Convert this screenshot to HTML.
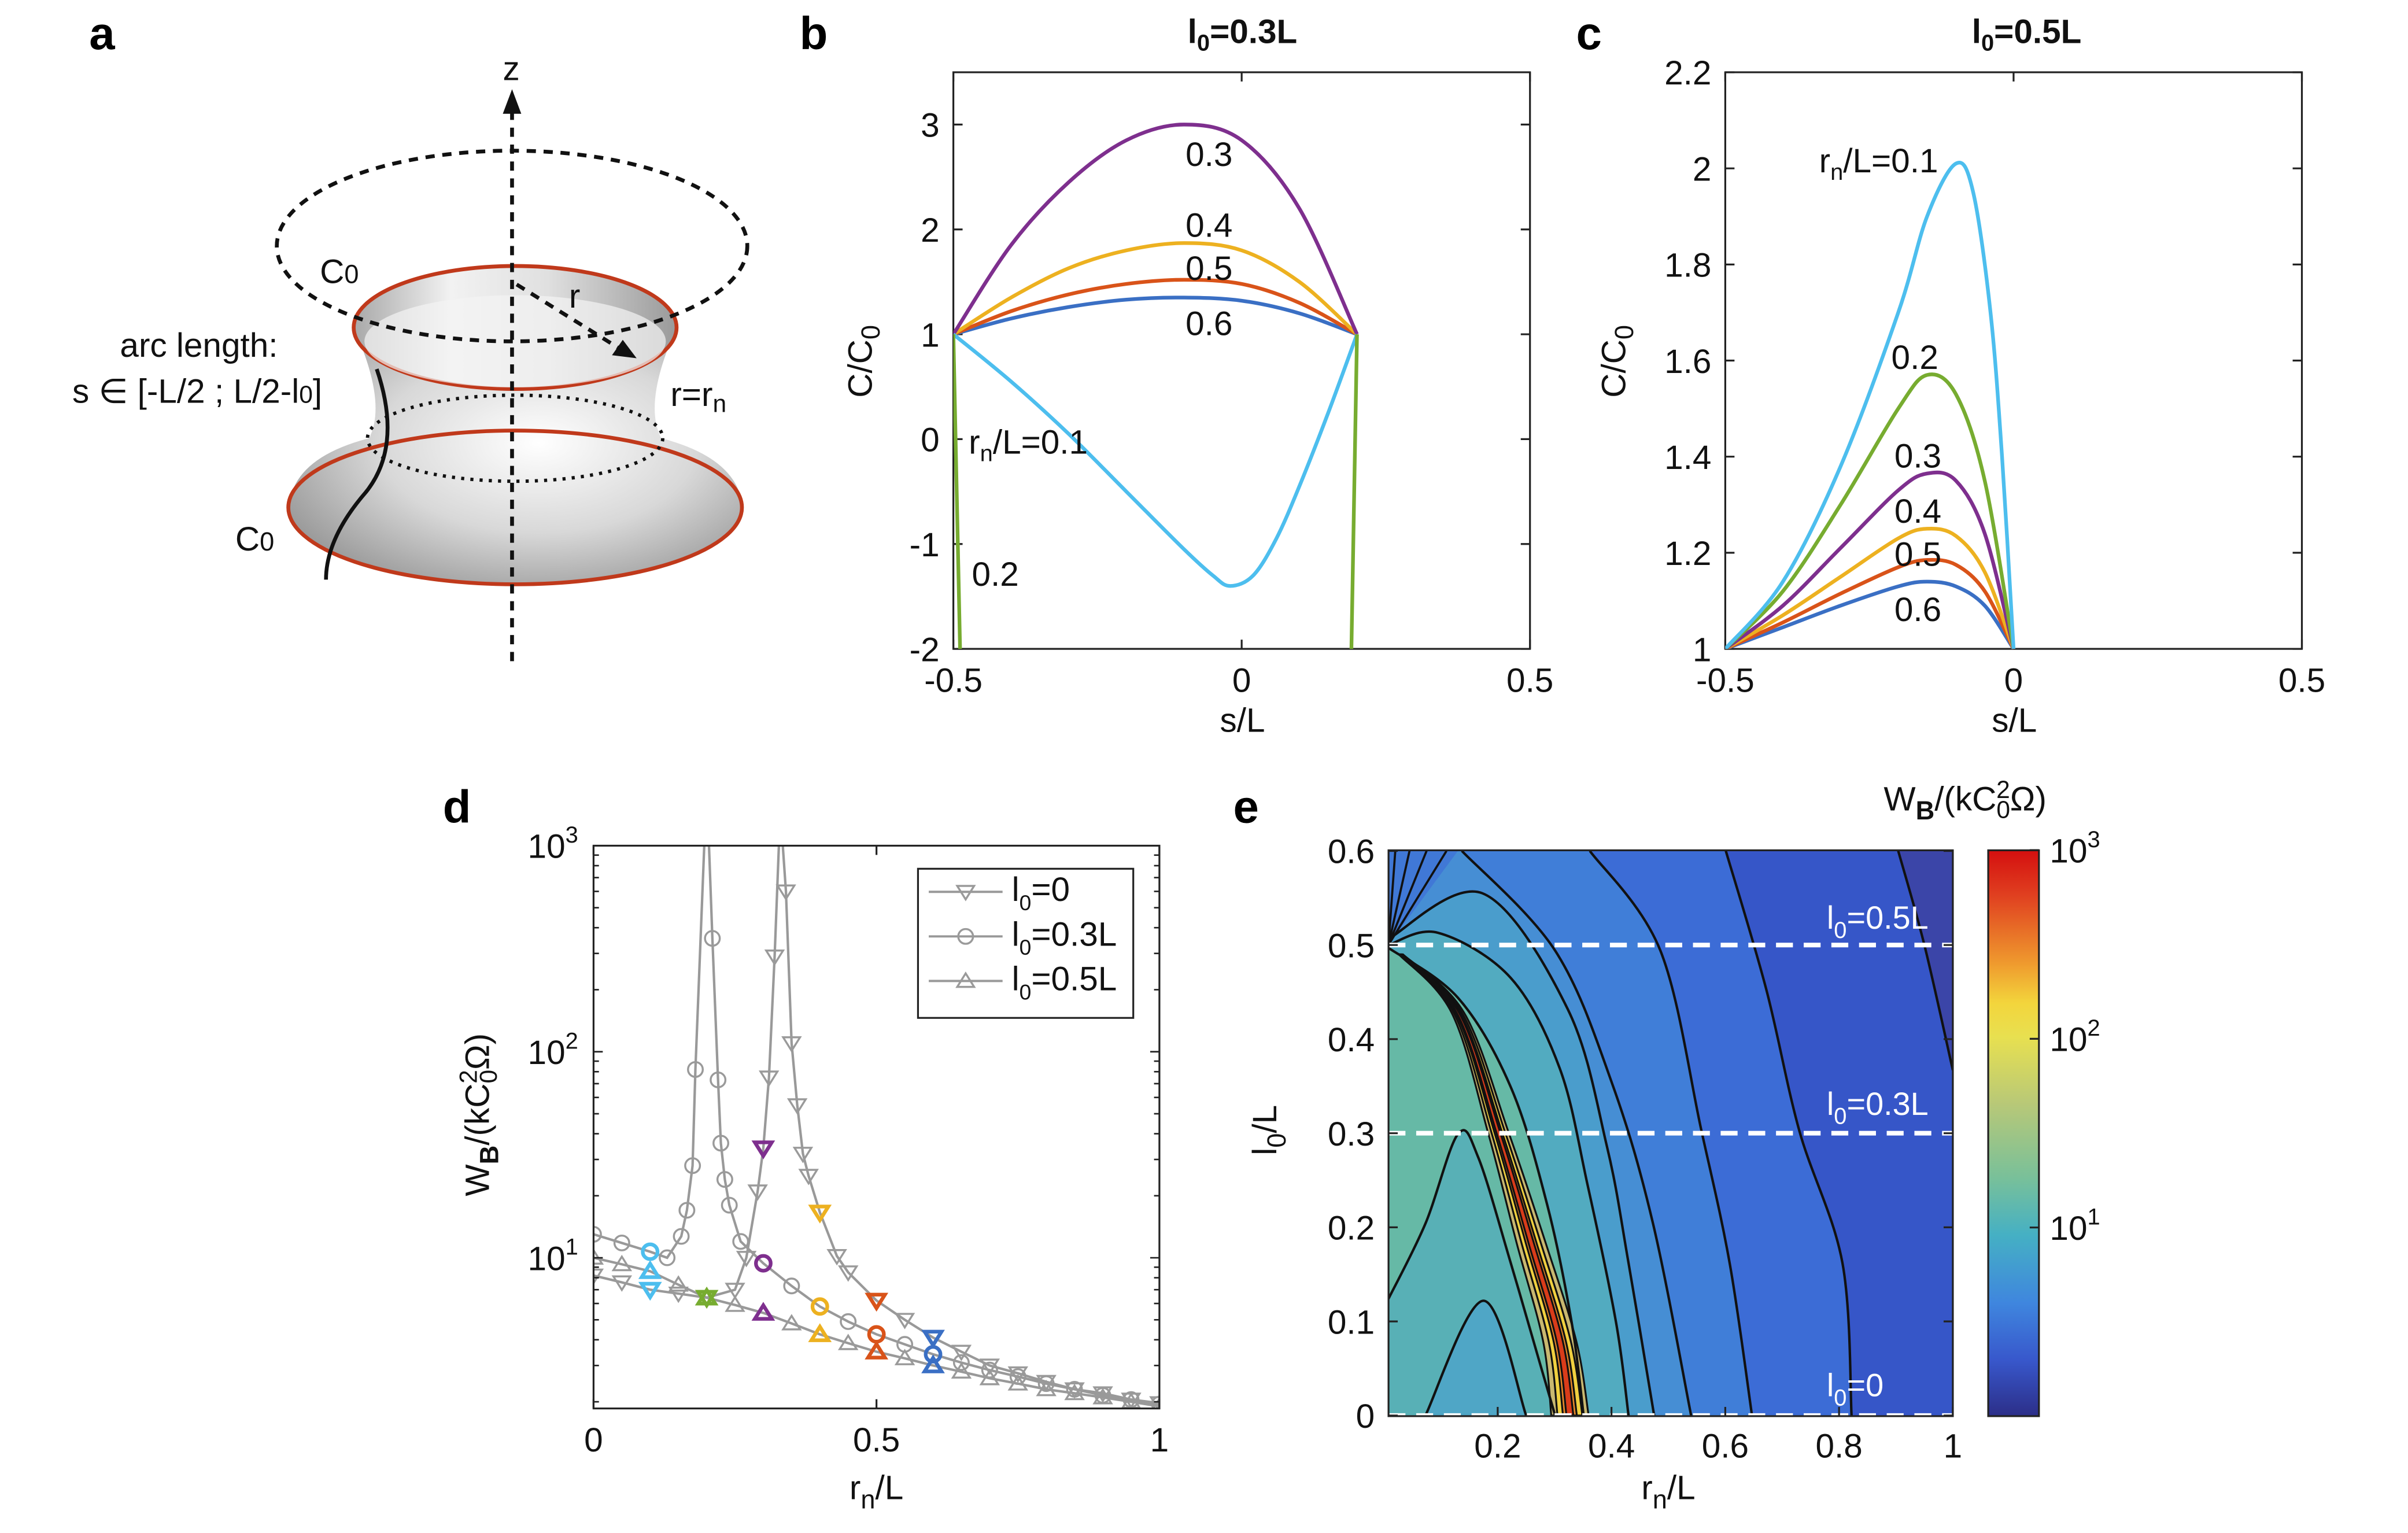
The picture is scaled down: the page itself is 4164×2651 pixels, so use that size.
<!DOCTYPE html>
<html><head><meta charset="utf-8"><style>
html,body{margin:0;padding:0;background:#fff;}
svg{display:block;font-family:"Liberation Sans",Arial,sans-serif;}
.t{font-size:22px;fill:#111;}
.lt{font-size:30px;font-weight:bold;fill:#000;}
.ti{font-size:22px;font-weight:bold;fill:#111;}
</style></head><body>
<svg id="fig" width="4164" height="2651" viewBox="0 0 1566 997" xmlns="http://www.w3.org/2000/svg">
<defs>
<clipPath id="cb"><rect x="620" y="47" width="375" height="375"/></clipPath>
<clipPath id="cc"><rect x="1122" y="47" width="375" height="375"/></clipPath>
<clipPath id="cd"><rect x="386" y="550" width="368" height="366"/></clipPath>
<clipPath id="ce"><rect x="903" y="553" width="367" height="368"/></clipPath>
<linearGradient id="cbar" x1="0" y1="0" x2="0" y2="1">
<stop offset="0" stop-color="#d40f0f"/><stop offset="0.08" stop-color="#e04020"/><stop offset="0.2" stop-color="#ef9a2e"/><stop offset="0.27" stop-color="#f3d53c"/><stop offset="0.33" stop-color="#e8e050"/><stop offset="0.45" stop-color="#b7c878"/><stop offset="0.58" stop-color="#78c09a"/><stop offset="0.68" stop-color="#45b0c4"/><stop offset="0.8" stop-color="#3f86de"/><stop offset="0.9" stop-color="#3858cc"/><stop offset="1" stop-color="#2c2e88"/>
</linearGradient>
<radialGradient id="surf" cx="0.55" cy="0.45" r="0.7">
<stop offset="0" stop-color="#ffffff"/><stop offset="0.5" stop-color="#d8d8d8"/><stop offset="1" stop-color="#8a8a8a"/>
</radialGradient>
<linearGradient id="neck" x1="0" y1="0" x2="1" y2="0">
<stop offset="0" stop-color="#a8a8a8"/><stop offset="0.3" stop-color="#f2f2f2"/><stop offset="0.6" stop-color="#e0e0e0"/><stop offset="1" stop-color="#9a9a9a"/>
</linearGradient>
</defs>

<text class="lt" x="58" y="32">a</text>
<text class="lt" x="520" y="32">b</text>
<text class="lt" x="1025" y="32">c</text>
<text class="lt" x="288" y="535">d</text>
<text class="lt" x="802" y="535">e</text>

<g>
<path d="M188,330 Q190,298 240,285 Q252,262 230,213 L440,213 Q418,262 430,285 Q480,298 483,330 A147.5,50 0 0 1 188,330 Z" fill="url(#surf)"/>
<ellipse cx="335" cy="330" rx="147.5" ry="50" fill="none" stroke="#c0391b" stroke-width="2.5"/>
<ellipse cx="335" cy="213" rx="105" ry="40" fill="url(#neck)" stroke="#c0391b" stroke-width="2.5"/>
<ellipse cx="335" cy="222" rx="98" ry="30" fill="#f4f4f4" opacity="0.7"/>
<ellipse cx="335" cy="285" rx="96" ry="28" fill="none" stroke="#111" stroke-width="2.2" stroke-dasharray="2,4"/>
<ellipse cx="333" cy="160" rx="153" ry="62" fill="none" stroke="#111" stroke-width="2.5" stroke-dasharray="6,5"/>
<line x1="333" y1="72" x2="333" y2="432" stroke="#111" stroke-width="2.5" stroke-dasharray="6,5"/>
<polygon points="333,58 327,74 339,74" fill="#111"/>
<line x1="336" y1="185" x2="405" y2="228" stroke="#111" stroke-width="2.5" stroke-dasharray="6,5"/>
<polygon points="414,233 398,231 405,221" fill="#111"/>
<path d="M245,240 Q262,290 238,320 Q212,350 212,377" fill="none" stroke="#111" stroke-width="2.5"/>
<text class="t" x="327" y="52">z</text>
<text class="t" x="370" y="200">r</text>
<text class="t" x="208" y="184">C<tspan font-size="17">0</tspan></text>
<text class="t" x="78" y="232">arc length:</text>
<text class="t" x="47" y="262">s ∈ [-L/2 ; L/2-l<tspan font-size="16">0</tspan>]</text>
<text class="t" x="436" y="264">r=r<tspan font-size="16" dy="4">n</tspan></text>
<text class="t" x="153" y="358">C<tspan font-size="17">0</tspan></text>
</g>

<g>
<rect x="620" y="47" width="375" height="375" fill="none" stroke="#222" stroke-width="1.2"/>
<text class="ti" x="808" y="28" text-anchor="middle">l<tspan font-size="15" dy="5">0</tspan><tspan dy="-5">=0.3L</tspan></text>
<text class="t" x="808" y="476" text-anchor="middle" font-size="24">s/L</text>
<text class="t" transform="translate(567,235) rotate(-90)" text-anchor="middle" font-size="24">C/C<tspan font-size="17" dy="5">0</tspan></text>
<g id="bticks"></g>
<g id="bseries" clip-path="url(#cb)"></g>
<text class="t" x="630" y="295">r<tspan font-size="15" dy="5">n</tspan><tspan dy="-5">/L=0.1</tspan></text>
<text class="t" x="632" y="381">0.2</text>
<text class="t" x="771" y="108">0.3</text>
<text class="t" x="771" y="154">0.4</text>
<text class="t" x="771" y="182">0.5</text>
<text class="t" x="771" y="218">0.6</text>
</g>

<g>
<rect x="1122" y="47" width="375" height="375" fill="none" stroke="#222" stroke-width="1.2"/>
<text class="ti" x="1318" y="28" text-anchor="middle">l<tspan font-size="15" dy="5">0</tspan><tspan dy="-5">=0.5L</tspan></text>
<text class="t" x="1310" y="476" text-anchor="middle" font-size="24">s/L</text>
<text class="t" transform="translate(1057,235) rotate(-90)" text-anchor="middle" font-size="24">C/C<tspan font-size="17" dy="5">0</tspan></text>
<g id="cticks"></g>
<g id="cseries" clip-path="url(#cc)"></g>
<text class="t" x="1183" y="112">r<tspan font-size="15" dy="5">n</tspan><tspan dy="-5">/L=0.1</tspan></text>
<text class="t" x="1230" y="240">0.2</text>
<text class="t" x="1232" y="304">0.3</text>
<text class="t" x="1232" y="340">0.4</text>
<text class="t" x="1232" y="368">0.5</text>
<text class="t" x="1232" y="404">0.6</text>
</g>

<g>
<g id="dseries" clip-path="url(#cd)"></g>
<rect x="386" y="550" width="368" height="366" fill="none" stroke="#222" stroke-width="1.2"/>
<g id="dticks"></g>
<text class="t" x="570" y="975" text-anchor="middle" font-size="24">r<tspan font-size="17" dy="6">n</tspan><tspan dy="-6">/L</tspan></text>
<text class="t" transform="translate(318,725) rotate(-90)" text-anchor="middle" font-size="24">W<tspan font-size="17" dy="6" font-weight="bold">B</tspan><tspan dy="-6">/(kC</tspan><tspan font-size="16" dy="5">0</tspan><tspan font-size="16" dy="-13" dx="-9">2</tspan><tspan dy="8">Ω)</tspan></text>
<g>
<rect x="597" y="565" width="140" height="97" fill="#fff" stroke="#222" stroke-width="1.2"/>
<g id="legend"></g>
<text class="t" x="658" y="586" font-size="20">l<tspan font-size="14" dy="6">0</tspan><tspan dy="-6">=0</tspan></text>
<text class="t" x="658" y="615" font-size="20">l<tspan font-size="14" dy="6">0</tspan><tspan dy="-6">=0.3L</tspan></text>
<text class="t" x="658" y="644" font-size="20">l<tspan font-size="14" dy="6">0</tspan><tspan dy="-6">=0.5L</tspan></text>
</g>
</g>

<g>
<g id="eheat" clip-path="url(#ce)"></g>
<rect x="903" y="553" width="367" height="368" fill="none" stroke="#222" stroke-width="1.2"/>
<g id="eticks"></g>
<text x="1188" y="604" font-size="21" fill="#fff">l<tspan font-size="15" dy="6">0</tspan><tspan dy="-6">=0.5L</tspan></text>
<text x="1188" y="725" font-size="21" fill="#fff">l<tspan font-size="15" dy="6">0</tspan><tspan dy="-6">=0.3L</tspan></text>
<text x="1188" y="908" font-size="21" fill="#fff">l<tspan font-size="15" dy="6">0</tspan><tspan dy="-6">=0</tspan></text>
<text class="t" x="1085" y="975" text-anchor="middle" font-size="24">r<tspan font-size="17" dy="6">n</tspan><tspan dy="-6">/L</tspan></text>
<text class="t" transform="translate(830,735) rotate(-90)" text-anchor="middle" font-size="24">l<tspan font-size="17" dy="6">0</tspan><tspan dy="-6">/L</tspan></text>
<rect x="1293" y="553" width="33" height="368" fill="url(#cbar)" stroke="#222" stroke-width="1.2"/>
<g id="cbticks"></g>
<text class="t" x="1278" y="527" text-anchor="middle" font-size="24">W<tspan font-size="17" dy="6" font-weight="bold">B</tspan><tspan dy="-6">/(kC</tspan><tspan font-size="16" dy="5">0</tspan><tspan font-size="16" dy="-13" dx="-9">2</tspan><tspan dy="8">Ω)</tspan></text>
</g>
</svg>
<script>
const bS = [-0.5,-0.4,-0.3,-0.2,-0.1,0,0.1,0.2];
const b03 = [1,1.85,2.45,2.85,3.0,2.85,2.2,1];
const b04 = [1,1.35,1.63,1.8,1.87,1.8,1.5,1];
const b05 = [1,1.22,1.38,1.48,1.52,1.48,1.3,1];
const b06 = [1,1.15,1.26,1.33,1.35,1.32,1.2,1];
const b01S = [-0.5,-0.4,-0.3,-0.2,-0.1,-0.05,-0.02,0.02,0.06,0.1,0.15,0.2];
const b01 = [1,0.55,0.05,-0.5,-1.05,-1.3,-1.4,-1.3,-0.95,-0.45,0.25,1.0];
const b02LS = [-0.5,-0.488];
const b02L = [1,-2.1];
const b02RS = [0.2,0.19];
const b02R = [1,-2.1];
const bXTicks = [-0.5,0,0.5];
const bYTicks = [-2,-1,0,1,2,3];

const cS = [-0.5,-0.4,-0.3,-0.2,-0.15,-0.1,-0.05,0];
const c01S = [-0.5,-0.4,-0.3,-0.2,-0.15,-0.1,-0.07,-0.04,-0.02,0];
const c01 = [1,1.14,1.38,1.7,1.9,2.01,1.95,1.7,1.4,1.0];
const c02 = [1,1.12,1.3,1.5,1.57,1.53,1.35,1.0];
const c03 = [1,1.09,1.21,1.33,1.365,1.35,1.24,1];
const c04 = [1,1.07,1.15,1.23,1.25,1.235,1.16,1];
const c05 = [1,1.055,1.115,1.17,1.185,1.175,1.12,1];
const c06 = [1,1.045,1.09,1.13,1.14,1.13,1.09,1];
const cXTicks = [-0.5,0,0.5];
const cYTicks = [1,1.2,1.4,1.6,1.8,2,2.2];

const dDownR = [0,0.05,0.1,0.15,0.2,0.25,0.27,0.29,0.3,0.31,0.32,0.33,0.34,0.35,0.36,0.37,0.38,0.4,0.43,0.45,0.5,0.55,0.6,0.65,0.7,0.75,0.8,0.85,0.9,0.95,1];
const dDownV = [8.2,7.6,7.0,6.7,6.4,7.0,10,21,34,75,290,1500,600,110,55,32,25,16.6,10.2,8.5,6.2,5.0,4.1,3.5,3.0,2.75,2.5,2.3,2.2,2.05,1.97];
const dCircR = [0,0.05,0.1,0.13,0.155,0.165,0.175,0.18,0.2,0.21,0.22,0.225,0.232,0.24,0.26,0.3,0.35,0.4,0.45,0.5,0.55,0.6,0.65,0.7,0.75,0.8,0.85,0.9,0.95,1];
const dCircV = [13,11.8,10.7,10,12.7,17,28,82,2000,355,73,36,24,18,12,9.4,7.3,5.8,4.9,4.25,3.8,3.4,3.1,2.85,2.65,2.45,2.3,2.15,2.05,1.95];
const dUpR = [0,0.05,0.1,0.15,0.2,0.25,0.3,0.35,0.4,0.45,0.5,0.55,0.6,0.65,0.7,0.75,0.8,0.85,0.9,0.95,1];
const dUpV = [10,9.3,8.6,7.4,6.4,5.9,5.4,4.8,4.25,3.85,3.5,3.25,3.0,2.8,2.6,2.45,2.3,2.2,2.1,2.0,1.9];
const dHiR = [0.1,0.2,0.3,0.4,0.5,0.6];
const dHiC = ['#4DBEEE','#77AC30','#7E2F8E','#EDB120','#D95319','#3a6fc4'];
const dXTicks = [0,0.5,1];
const dYTicks = [10,100,1000];

const eA = [[0.904,0.6],[0.95,0.5],[1.0,0.367]];
const eB = [[0.601,0.6],[0.672,0.453],[0.73,0.303],[0.806,0.162],[0.822,0]];
const eC = [[0.362,0.6],[0.486,0.494],[0.558,0.303],[0.608,0.161],[0.647,0]];
const eD = [[0.137,0.6],[0.301,0.494],[0.401,0.353],[0.473,0.204],[0.54,0]];
const eE = [[0.009,0.507],[0.173,0.555],[0.323,0.432],[0.392,0.286],[0.43,0.162],[0.475,0]];
const eF = [[0.008,0.5],[0.095,0.513],[0.223,0.465],[0.309,0.369],[0.358,0.245],[0.408,0.099],[0.43,0]];
const eG = [[0.008,0.497],[0.13,0.444],[0.223,0.349],[0.287,0.224],[0.33,0.099],[0.351,0]];
const eH = [[0.008,0.124],[0.073,0.204],[0.13,0.299],[0.166,0.274],[0.223,0.162],[0.273,0.058],[0.301,0]];
const eI = [[0.073,0],[0.175,0.122],[0.25,0]];
const eRidge = [[0.03,0.49],[0.13,0.428],[0.202,0.299],[0.259,0.183],[0.309,0.079],[0.327,0]];
const eRidgeW = [1,3,5,7,8,9];
const eFan = [0.02,0.045,0.075,0.11];
const eXTicks = [0.2,0.4,0.6,0.8,1];
const eYTicks = [0,0.1,0.2,0.3,0.4,0.5,0.6];
const eDash = [0,0.3,0.5];
const cbTicks = [1,2,3];

const bx = s => 620 + (s + 0.5) * 375;
const by = v => 422 - (v + 2) * 68.2;
const cx = s => 1122 + (s + 0.5) * 375;
const cy = v => 422 - (v - 1) * 312.5;
const dx = r => 386 + r * 368;
const dy = v => 818 - (Math.log10(v) - 1) * 134;
const ex = r => 900 + r * 370;
const ey = l => 920.6 - l * 612;
const cby = e => 921 - e * 122.7;

const NS = 'http://www.w3.org/2000/svg';
function mk(parent, tag, attrs, name) {
  const e = document.createElementNS(NS, tag);
  for (const k in attrs) e.setAttribute(k, attrs[k]);
  
  
  parent.appendChild(e);
  return e;
}
function smooth(p) {
  let d = 'M' + p[0][0].toFixed(2) + ',' + p[0][1].toFixed(2);
  for (let i = 0; i < p.length - 1; i++) {
    const p0 = p[Math.max(0, i - 1)], p1 = p[i], p2 = p[i + 1], p3 = p[Math.min(p.length - 1, i + 2)];
    const c1x = p1[0] + (p2[0] - p0[0]) / 6, c1y = p1[1] + (p2[1] - p0[1]) / 6;
    const c2x = p2[0] - (p3[0] - p1[0]) / 6, c2y = p2[1] - (p3[1] - p1[1]) / 6;
    d += ' C' + c1x.toFixed(2) + ',' + c1y.toFixed(2) + ' ' + c2x.toFixed(2) + ',' + c2y.toFixed(2) + ' ' + p2[0].toFixed(2) + ',' + p2[1].toFixed(2);
  }
  return d;
}
function poly(p) { return 'M' + p.map(q => q[0].toFixed(2) + ',' + q[1].toFixed(2)).join(' L'); }

function ticksXY(g, xs, ys, fx, fy, x0, x1, y0, y1, xl, yl) {
  xs.forEach(t => {
    const X = fx(t);
    mk(g, 'line', {x1: X, x2: X, y1: y1, y2: y1 - 6, stroke: '#222', 'stroke-width': 1.2}, 'x-tick');
    mk(g, 'line', {x1: X, x2: X, y1: y0, y2: y0 + 6, stroke: '#222', 'stroke-width': 1.2}, 'x-tick-top');
    const t2 = mk(g, 'text', {x: X, y: y1 + 28, 'text-anchor': 'middle', class: 't'}, 'x-tick-label');
    t2.textContent = xl(t);
  });
  ys.forEach(t => {
    const Y = fy(t);
    mk(g, 'line', {x1: x0, x2: x0 + 6, y1: Y, y2: Y, stroke: '#222', 'stroke-width': 1.2}, 'y-tick');
    mk(g, 'line', {x1: x1, x2: x1 - 6, y1: Y, y2: Y, stroke: '#222', 'stroke-width': 1.2}, 'y-tick-right');
    const t2 = mk(g, 'text', {x: x0 - 9, y: Y + 8, 'text-anchor': 'end', class: 't'}, 'y-tick-label');
    t2.textContent = yl(t);
  });
}
const fmt = v => (Math.round(v * 10) / 10).toString();

ticksXY(document.getElementById('bticks'), bXTicks, bYTicks, bx, by, 620, 995, 47, 422, fmt, fmt);
const bg = document.getElementById('bseries');
[[bS, b06, '#3a6fc4', 'curve-b-06'], [bS, b05, '#D95319', 'curve-b-05'], [bS, b04, '#EDB120', 'curve-b-04'], [bS, b03, '#7E2F8E', 'curve-b-03'], [b01S, b01, '#4DBEEE', 'curve-b-01']].forEach(s => {
  const pts = s[0].map((x, i) => [bx(x), by(s[1][i])]);
  mk(bg, 'path', {d: smooth(pts), fill: 'none', stroke: s[2], 'stroke-width': 2.4}, s[3]);
});
[[b02LS, b02L], [b02RS, b02R]].forEach(s => {
  const pts = s[0].map((x, i) => [bx(x), by(s[1][i])]);
  mk(bg, 'path', {d: poly(pts), fill: 'none', stroke: '#77AC30', 'stroke-width': 2.4}, 'curve-b-02');
});

ticksXY(document.getElementById('cticks'), cXTicks, cYTicks, cx, cy, 1122, 1497, 47, 422, fmt, fmt);
const cg = document.getElementById('cseries');
[[cS, c06, '#3a6fc4', 'curve-c-06'], [cS, c05, '#D95319', 'curve-c-05'], [cS, c04, '#EDB120', 'curve-c-04'], [cS, c03, '#7E2F8E', 'curve-c-03'], [cS, c02, '#77AC30', 'curve-c-02'], [c01S, c01, '#4DBEEE', 'curve-c-01']].forEach(s => {
  const pts = s[0].map((x, i) => [cx(x), cy(s[1][i])]);
  mk(cg, 'path', {d: smooth(pts), fill: 'none', stroke: s[2], 'stroke-width': 2.4}, s[3]);
});

const dt = document.getElementById('dticks');
dXTicks.forEach(t => {
  const X = dx(t);
  mk(dt, 'line', {x1: X, x2: X, y1: 916, y2: 910, stroke: '#222', 'stroke-width': 1.2}, 'x-tick');
  mk(dt, 'line', {x1: X, x2: X, y1: 550, y2: 556, stroke: '#222', 'stroke-width': 1.2}, 'x-tick-top');
  const tx = mk(dt, 'text', {x: X, y: 944, 'text-anchor': 'middle', class: 't'}, 'x-tick-label');
  tx.textContent = fmt(t);
});
for (let dec = 1; dec <= 1000; dec *= 10) {
  for (let m = 1; m < 10; m++) {
    const v = dec * m;
    if (v < 1.87 || v > 1000) continue;
    const Y = dy(v), L = m === 1 ? 6 : 3.5;
    mk(dt, 'line', {x1: 386, x2: 386 + L, y1: Y, y2: Y, stroke: '#222', 'stroke-width': 1}, 'y-minor-tick');
    mk(dt, 'line', {x1: 754, x2: 754 - L, y1: Y, y2: Y, stroke: '#222', 'stroke-width': 1}, 'y-minor-tick-right');
  }
}
dYTicks.forEach(t => {
  const tx = mk(dt, 'text', {x: 376, y: dy(t) + 8, 'text-anchor': 'end', class: 't'}, 'y-tick-label');
  tx.textContent = '10';
  const sup = document.createElementNS(NS, 'tspan');
  sup.setAttribute('font-size', '15');
  sup.setAttribute('dy', '-10');
  sup.textContent = String(Math.round(Math.log10(t)));
  tx.appendChild(sup);
});
function marker(g, type, X, Y, col, w, name) {
  const s = 5.5;
  if (type === 'down') return mk(g, 'path', {d: `M${X - s},${Y - s * 0.7} L${X + s},${Y - s * 0.7} L${X},${Y + s * 0.9} Z`, fill: 'none', stroke: col, 'stroke-width': w}, name);
  if (type === 'up') return mk(g, 'path', {d: `M${X - s},${Y + s * 0.7} L${X + s},${Y + s * 0.7} L${X},${Y - s * 0.9} Z`, fill: 'none', stroke: col, 'stroke-width': w}, name);
  return mk(g, 'circle', {cx: X, cy: Y, r: 4.8, fill: 'none', stroke: col, 'stroke-width': w}, name);
}
const dg = document.getElementById('dseries');
const dSeries = [[dUpR, dUpV, 'up', 'series-l0-05'], [dCircR, dCircV, 'circ', 'series-l0-03'], [dDownR, dDownV, 'down', 'series-l0-0']];
dSeries.forEach(s => {
  const pts = s[0].map((r, i) => [dx(r), dy(s[1][i])]);
  mk(dg, 'path', {d: poly(pts), fill: 'none', stroke: '#999', 'stroke-width': 1.6}, s[3] + '-line');
  pts.forEach(p => marker(dg, s[2], p[0], p[1], '#9a9a9a', 1.3, s[3] + '-marker'));
});
dSeries.forEach(s => {
  dHiR.forEach((r, k) => {
    const i = s[0].findIndex(q => Math.abs(q - r) < 1e-9);
    if (i < 0) return;
    marker(dg, s[2], dx(r), dy(s[1][i]), dHiC[k], 2.4, 'highlight-marker');
  });
});
const lg = document.getElementById('legend');
[['down', 580], ['circ', 609], ['up', 638]].forEach(l => {
  mk(lg, 'line', {x1: 604, x2: 652, y1: l[1], y2: l[1], stroke: '#999', 'stroke-width': 1.5}, 'legend-line');
  marker(lg, l[0], 628, l[1], '#9a9a9a', 1.3, 'legend-marker');
});

const eg = document.getElementById('eheat');
const toS = p => p.map(q => [ex(q[0]), ey(q[1])]);
mk(eg, 'rect', {x: 903, y: 553, width: 367, height: 368, fill: '#3b45a8'}, 'region-top-right');
function leftRegion(c, col, name) {
  const p = toS(c);
  const d = smooth(p) + ` L${ex(0)},${ey(0)} L${ex(0)},${ey(0.6)} Z`;
  mk(eg, 'path', {d: d, fill: col}, name);
}
function cornerRegion(c, col, name) {
  const p = toS(c);
  const d = smooth(p) + ` L${ex(0)},${ey(0)} Z`;
  mk(eg, 'path', {d: d, fill: col}, name);
}
leftRegion(eA.concat([[1.05, 0.2], [1.05, 0]]), '#3656c8', 'region-a');
leftRegion(eB, '#3c6cd6', 'region-b');
leftRegion(eC, '#407ed8', 'region-c');
leftRegion(eD, '#468ed4', 'region-d');
mk(eg, 'path', {d: `M${ex(0.008)},${ey(0.5)} L${ex(0)},${ey(0.6)} L${ex(0.13)},${ey(0.6)} Z`, fill: '#4078d6'}, 'region-fan');
cornerRegion(eE, '#4a9dcc', 'region-e');
cornerRegion(eF, '#52abc0', 'region-f');
cornerRegion(eG, '#66b9a6', 'region-g');
cornerRegion(eH, '#58b0b6', 'region-h');
cornerRegion(eI, '#4fa6c6', 'region-i');
function band(w, col, name) {
  const p = toS(eRidge);
  const L = p.map((q, i) => [q[0] - w * eRidgeW[i], q[1]]);
  const R = p.map((q, i) => [q[0] + w * eRidgeW[i], q[1]]).reverse();
  mk(eg, 'path', {d: smooth(L) + ' L' + smooth(R).slice(1) + ' Z', fill: col, stroke: '#111', 'stroke-width': 1.2}, name);
}
band(1.35, '#c9b870', 'ridge-outer');
band(0.9, '#f0d040', 'ridge-yellow');
band(0.5, '#e8892a', 'ridge-orange');
band(0.25, '#d93c1a', 'ridge-red');
[eA, eB, eC, eD, eE, eF, eG, eH, eI].forEach(c => {
  mk(eg, 'path', {d: smooth(toS(c)), fill: 'none', stroke: '#111', 'stroke-width': 1.6}, 'contour-line');
});
eFan.forEach(r => {
  mk(eg, 'line', {x1: ex(0.008), y1: ey(0.5), x2: ex(r), y2: ey(0.6), stroke: '#111', 'stroke-width': 1.4}, 'contour-fan-line');
});
eDash.forEach(l => {
  mk(eg, 'line', {x1: 903, x2: 1270, y1: ey(l), y2: ey(l), stroke: '#fff', 'stroke-width': 3, 'stroke-dasharray': '11,7'}, 'dashed-line-l0');
});
const et = document.getElementById('eticks');
eXTicks.forEach(t => {
  const X = ex(t);
  mk(et, 'line', {x1: X, x2: X, y1: 921, y2: 915, stroke: '#222', 'stroke-width': 1.2}, 'x-tick');
  const tx = mk(et, 'text', {x: X, y: 948, 'text-anchor': 'middle', class: 't'}, 'x-tick-label');
  tx.textContent = fmt(t);
});
eYTicks.forEach(t => {
  const Y = ey(t);
  mk(et, 'line', {x1: 903, x2: 909, y1: Y, y2: Y, stroke: '#222', 'stroke-width': 1.2}, 'y-tick');
  mk(et, 'line', {x1: 1270, x2: 1264, y1: Y, y2: Y, stroke: '#222', 'stroke-width': 1.2}, 'y-tick-right');
  const tx = mk(et, 'text', {x: 894, y: Y + 8, 'text-anchor': 'end', class: 't'}, 'y-tick-label');
  tx.textContent = fmt(t);
});
const cbt = document.getElementById('cbticks');
cbTicks.forEach(e => {
  const Y = cby(e);
  mk(cbt, 'line', {x1: 1326, x2: 1320, y1: Y, y2: Y, stroke: '#222', 'stroke-width': 1.2}, 'colorbar-tick');
  const tx = mk(cbt, 'text', {x: 1333, y: Y + 8, class: 't'}, 'colorbar-tick-label');
  tx.textContent = '10';
  const sup = document.createElementNS(NS, 'tspan');
  sup.setAttribute('font-size', '15');
  sup.setAttribute('dy', '-10');
  sup.textContent = String(e);
  tx.appendChild(sup);
});
</script>
</body></html>
